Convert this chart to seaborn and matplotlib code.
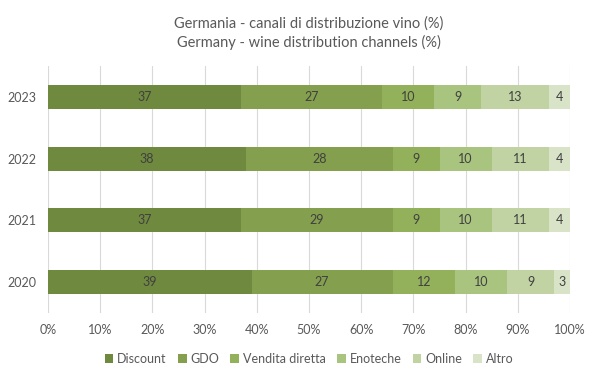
import numpy as np
import pandas as pd
import matplotlib.pyplot as plt
import seaborn as sns

# Data (percent shares)
years = ["2023", "2022", "2021", "2020"]
channels = ["Discount", "GDO", "Vendita diretta", "Enoteche", "Online", "Altro"]
discount = [37, 38, 37, 39]
gdo = [27, 28, 29, 27]
vendita = [10, 9, 9, 12]
enoteche = [9, 10, 10, 10]
online = [13, 11, 11, 9]
altro = [4, 4, 4, 3]

colors = ["#6f8a3e", "#849f4d", "#93b15a", "#a9c47e", "#c1d3a3", "#d8e3c8"]

values = np.array([discount, gdo, vendita, enoteche, online, altro])
cum = values.cumsum(axis=0)

sns.set_style("white")
plt.rcParams["font.family"] = ["Lato", "DejaVu Sans"]

fig = plt.figure(figsize=(6, 3.78), dpi=100)
ax = fig.add_axes([0.08, 0.172, 0.87, 0.653])

# draw cumulative bars from the longest to the shortest so they stack visually
for i in range(len(channels) - 1, -1, -1):
    df = pd.DataFrame({"year": years, "end": cum[i] / 100})
    sns.barplot(data=df, x="end", y="year", order=years, color=colors[i],
                width=0.39, saturation=1, linewidth=0, ax=ax, zorder=2,
                label=channels[i])

# segment labels
for i in range(len(channels)):
    for j, yr in enumerate(years):
        start = (cum[i][j] - values[i][j]) / 100
        mid = start + values[i][j] / 200
        ax.text(mid, j, str(values[i][j]), ha="center", va="center",
                fontsize=9, color="#404040", zorder=3)

ax.set_xlim(0, 1)
ax.set_ylim(3.5, -0.5)
ax.set_xticks(np.arange(0, 1.01, 0.1))
ax.set_xticklabels([f"{int(round(t * 100))}%" for t in np.arange(0, 1.01, 0.1)])
ax.xaxis.grid(True, color="#d9d9d9", linewidth=0.8, zorder=0)
ax.set_axisbelow(True)
for s in ax.spines.values():
    s.set_visible(False)
ax.tick_params(axis="both", length=0, labelsize=9, colors="#595959", pad=8)
ax.set_xlabel("")
ax.set_ylabel("")

ax.set_title("Germania - canali di distribuzione vino (%)\nGermany - wine distribution channels (%)",
             fontsize=10.5, color="#595959", pad=14, linespacing=1.3)

handles, labels = ax.get_legend_handles_labels()
order = [labels.index(c) for c in channels]
ax.legend([handles[k] for k in order], channels, loc="upper center",
          bbox_to_anchor=(0.5, -0.115), ncol=6, frameon=False, fontsize=9,
          handlelength=0.7, handleheight=0.7, handletextpad=0.3,
          columnspacing=0.9, labelcolor="#595959")

fig.savefig("out.png", dpi=100)
